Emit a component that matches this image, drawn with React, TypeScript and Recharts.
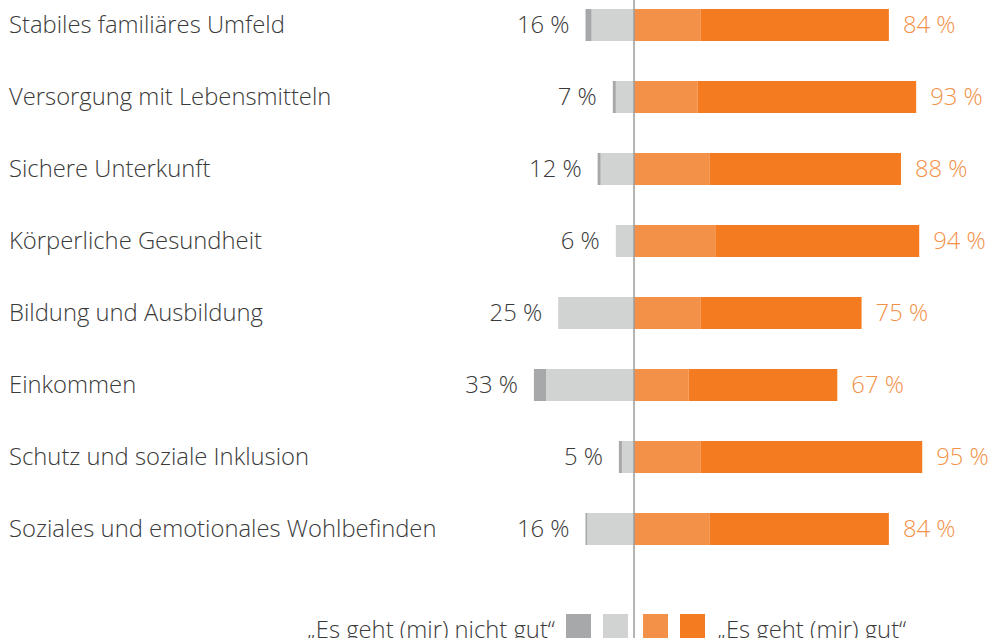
import { BarChart, Bar, XAxis, YAxis, ReferenceLine, LabelList, Legend } from 'recharts';

const categories = [
  'Stabiles familiäres Umfeld',
  'Versorgung mit Lebensmitteln',
  'Sichere Unterkunft',
  'Körperliche Gesundheit',
  'Bildung und Ausbildung',
  'Einkommen',
  'Schutz und soziale Inklusion',
  'Soziales und emotionales Wohlbefinden',
];

// "nicht gut" split: light grey (inner) + dark grey (outer)
const notGoodLight = [14, 6, 11, 6, 25, 29, 4, 15.4];
const notGoodDark = [2, 1, 1, 0, 0, 4, 1, 0.6];
// "gut" split: light orange (inner) + dark orange (outer)
const goodLight = [22, 21, 25, 27, 22, 18, 22, 25];
const goodDark = [62, 72, 63, 67, 53, 49, 73, 59];

const notGoodTotal = [16, 7, 12, 6, 25, 33, 5, 16];
const goodTotal = [84, 93, 88, 94, 75, 67, 95, 84];

const legendLeft = '„Es geht (mir) nicht gut“';
const legendRight = '„Es geht (mir) gut“';

const data = categories.map((name, i) => ({
  name,
  nl: -notGoodLight[i],
  nd: -notGoodDark[i],
  gl: goodLight[i],
  gd: goodDark[i],
  nt: notGoodTotal[i],
  gt: goodTotal[i],
}));

const FONT = '"Open Sans", sans-serif';
const FS = 23.8;
const DARK_GREY = '#a7a8aa';
const LIGHT_GREY = '#d1d3d2';
const LIGHT_ORANGE = '#f39148';
const DARK_ORANGE = '#f47b20';
const TEXT = '#3a3a3a';

const textStyle = { fontFamily: FONT, fontWeight: 300, fontSize: FS };

const CategoryTick = (props: any) => {
  const { y, payload } = props;
  return (
    <text x={9} y={y} dy="0.35em" textAnchor="start" fill={TEXT} style={textStyle}>
      {payload.value}
    </text>
  );
};

// label sits on the light grey bar; the dark grey part is added from the same scale
const LeftLabel = (props: any) => {
  const { x, y, width, height, index } = props;
  const w = Math.abs(width);
  const light = notGoodLight[index];
  const extra = light ? (w * notGoodDark[index]) / light : 0;
  const end = Math.min(x, x + width) - extra;
  return (
    <text x={end - 16} y={y + height / 2} dy="0.35em" textAnchor="end" fill={TEXT} style={textStyle}>
      {notGoodTotal[index]} %
    </text>
  );
};

const RightLabel = (props: any) => {
  const { x, y, width, height, value } = props;
  return (
    <text x={x + width + 14} y={y + height / 2} dy="0.35em" textAnchor="start" fill={LIGHT_ORANGE} style={textStyle}>
      {value} %
    </text>
  );
};

const LegendContent = () => (
  <svg width={990} height={44} style={{ display: 'block' }}>
    <text x={555} y={33} textAnchor="end" fill={TEXT} style={textStyle}>
      {legendLeft}
    </text>
    <rect x={566} y={9} width={25} height={25} fill={DARK_GREY} />
    <rect x={603} y={9} width={25} height={25} fill={LIGHT_GREY} />
    <rect x={643} y={9} width={25} height={25} fill={LIGHT_ORANGE} />
    <rect x={680} y={9} width={25} height={25} fill={DARK_ORANGE} />
    <text x={717} y={33} textAnchor="start" fill={TEXT} style={textStyle}>
      {legendRight}
    </text>
  </svg>
);

const App = () => {
  return (
    <div style={{ position: 'absolute', left: 0, top: -11, background: '#fff' }}>
      <BarChart
        width={990}
        height={649}
        data={data}
        layout="vertical"
        stackOffset="sign"
        margin={{ top: 0, right: 1, bottom: 0, left: 0 }}
      >
        <XAxis type="number" domain={[-60, 117]} hide allowDataOverflow />
        <YAxis
          type="category"
          dataKey="name"
          width={452}
          axisLine={false}
          tickLine={false}
          padding={{ top: 0, bottom: 73 }}
          tick={<CategoryTick />}
          interval={0}
        />
        <Bar dataKey="nl" stackId="a" fill={LIGHT_GREY} barSize={32} isAnimationActive={false}>
          <LabelList dataKey="nt" content={<LeftLabel />} />
        </Bar>
        <Bar dataKey="nd" stackId="a" fill={DARK_GREY} barSize={32} isAnimationActive={false} />
        <Bar dataKey="gl" stackId="a" fill={LIGHT_ORANGE} barSize={32} isAnimationActive={false} />
        <Bar dataKey="gd" stackId="a" fill={DARK_ORANGE} barSize={32} isAnimationActive={false}>
          <LabelList dataKey="gt" content={<RightLabel />} />
        </Bar>
        <ReferenceLine x={0} stroke="#9b9b9b" strokeWidth={1.5} />
        <Legend
          layout="vertical"
          align="center"
          verticalAlign="middle"
          content={<LegendContent />}
          wrapperStyle={{ position: 'absolute', left: 0, top: 616, width: 990, height: 44 }}
        />
      </BarChart>
    </div>
  );
};

export default App;
